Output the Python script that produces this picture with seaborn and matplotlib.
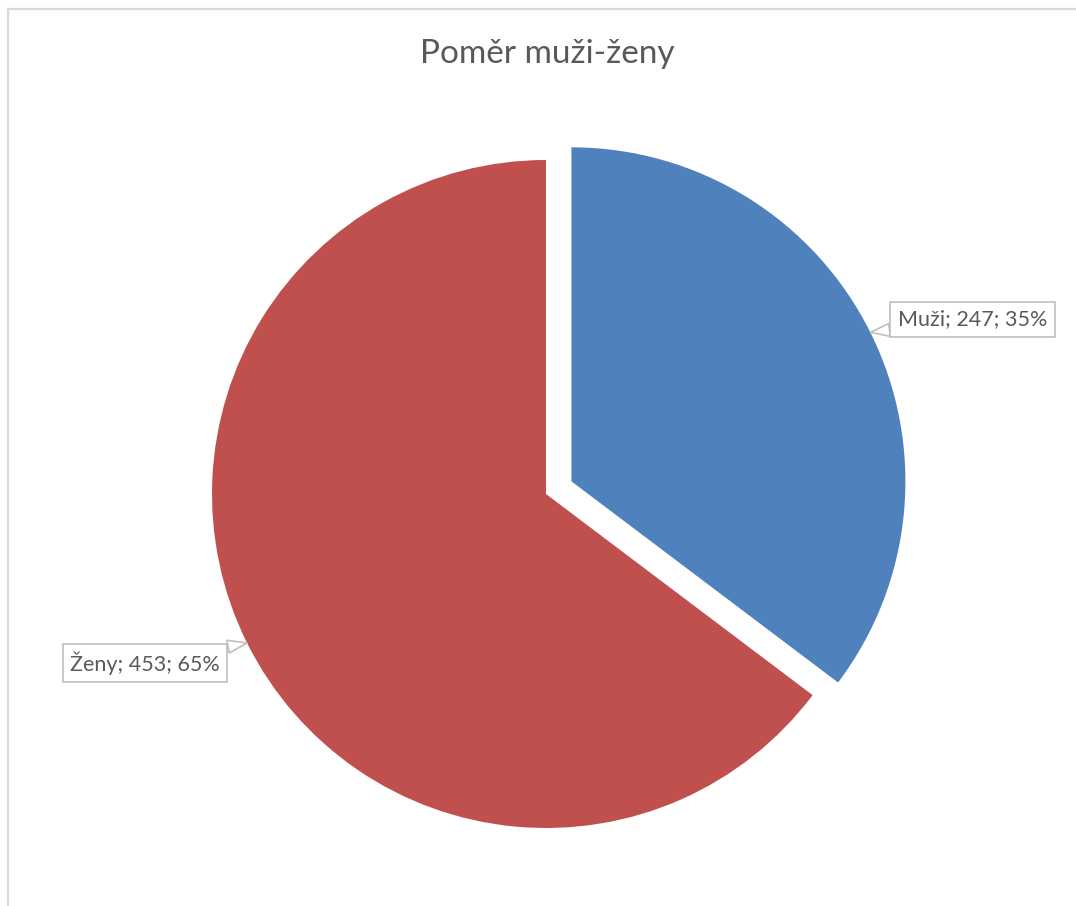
import numpy as np
import matplotlib
matplotlib.use("Agg")
import matplotlib.pyplot as plt
import seaborn as sns
from matplotlib.lines import Line2D

categories = ["Muži", "Ženy"]
values = [247, 453]
title = "Poměr muži-ženy"

colors = ["#4F81BD", "#C0504D"]
explode = [0.085, 0.0]

sns.set_theme(style="white")
plt.rcParams["font.family"] = ["Lato", "DejaVu Sans"]

W, H = 1076, 906
fig = plt.figure(figsize=(W / 100, H / 100), dpi=100)
ax = fig.add_axes([0, 0, 1, 1])

wedges, _ = ax.pie(values, colors=colors, startangle=90, counterclock=False,
                   explode=explode, radius=1.0,
                   wedgeprops=dict(linewidth=0))

# pie center at pixel (546, 494), radius 334 px
cx, cy, R = 546.0, 494.0, 334.0
ax.set_xlim(-cx / R, (W - cx) / R)
ax.set_ylim(-(H - cy) / R, cy / R)
ax.set_aspect("equal")
ax.axis("off")

total = sum(values)
offsets = [(102, 13), (-102, -20)]
for w, cat, v, off in zip(wedges, categories, values, offsets):
    mid = np.deg2rad((w.theta1 + w.theta2) / 2)
    tip = (w.center[0] + w.r * np.cos(mid), w.center[1] + w.r * np.sin(mid))
    pct = round(100 * v / total)
    ax.annotate(f"{cat}; {v}; {pct}%", xy=tip, xytext=off,
                textcoords="offset pixels", ha="center", va="center",
                fontsize=15.5, color="#595959",
                bbox=dict(boxstyle="square,pad=0.35", fc="white", ec="#BFBFBF", lw=1.2),
                arrowprops=dict(arrowstyle="wedge,tail_width=0.6,shrink_factor=0.5",
                                fc="white", ec="#BFBFBF", lw=1.2,
                                shrinkA=0, shrinkB=0))

fig.text(547 / W, 1 - 54 / H, title, ha="center", va="center",
         fontsize=24, color="#595959")

# chart border (top and left visible)
fig.add_artist(Line2D([7.5 / W, 7.5 / W], [0, 1 - 8.5 / H], transform=fig.transFigure,
                      color="#D9D9D9", lw=1.6))
fig.add_artist(Line2D([7.5 / W, 1], [1 - 8.5 / H, 1 - 8.5 / H], transform=fig.transFigure,
                      color="#D9D9D9", lw=1.6))

fig.savefig("out.png", dpi=100, facecolor="white")
